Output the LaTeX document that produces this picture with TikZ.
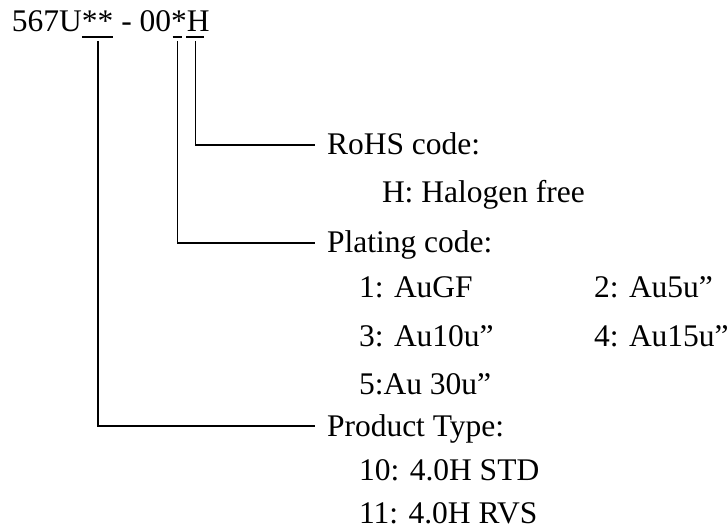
\documentclass[tikz,border=0pt]{standalone}
\usepackage{fontspec}
\setmainfont{Liberation Serif}
\usetikzlibrary{calc}
\begin{document}
\begin{tikzpicture}[x=1pt,y=-1pt,
  every node/.style={inner sep=0pt, outer sep=0pt, anchor=base west, font=\fontsize{31.5}{31.5}\selectfont},
  conn/.style={line width=1.7pt},
  uline/.style={line width=1.7pt}]
\useasboundingbox (0,0) rectangle (728,529);
% title
\node (t1) at (12,32) {567U};
\node (t2) at (t1.base east) {**};
\node (t3) at (t2.base east) {\ -\ 00};
\node (t4) at (t3.base east) {*};
\node (t5) at (t4.base east) {H};
% underlines
\draw[uline] ($(t2.base west)+(0,5)$) -- ($(t2.base east)+(0,5)$);
\draw[uline] ($(t4.base west)+(1.5,5)$) -- ($(t4.base east)+(-4.5,5)$);
\draw[uline] ($(t5.base west)+(-0.5,5)$) -- ($(t5.base east)+(-6,5)$);
% labels
\node (rohs) at (327,155) {RoHS code:};
\node (halo) at (382,203) {H: Halogen free};
\node (plat) at (327,253) {Plating code:};
\node (p1) at (359,298) {1: AuGF};
\node (p2) at (594,298) {2: Au5u”};
\node (p3) at (359,346) {3: Au10u”};
\node (p4) at (594,346) {4: Au15u”};
\node (p5) at (359,394) {5:Au 30u”};
\node (prod) at (327,436) {Product Type:};
\node (pt1) at (359,480) {10: 4.0H STD};
\node (pt2) at (359,523) {11: 4.0H RVS};
% connectors
\coordinate (eR) at ($(rohs.base west)+(-12,-10)$);
\coordinate (eP) at ($(plat.base west)+(-12,-10)$);
\coordinate (eT) at ($(prod.base west)+(-12,-10)$);
\draw[conn] ($(t5.base west)!0.5!(t5.base east)+(-3,9)$) |- (eR);
\draw[conn] ($(t4.base west)!0.5!(t4.base east)+(-1.5,9)$) |- (eP);
\draw[conn] ($(t2.base west)!0.5!(t2.base east)+(0,9)$) |- (eT);
\end{tikzpicture}
\end{document}
